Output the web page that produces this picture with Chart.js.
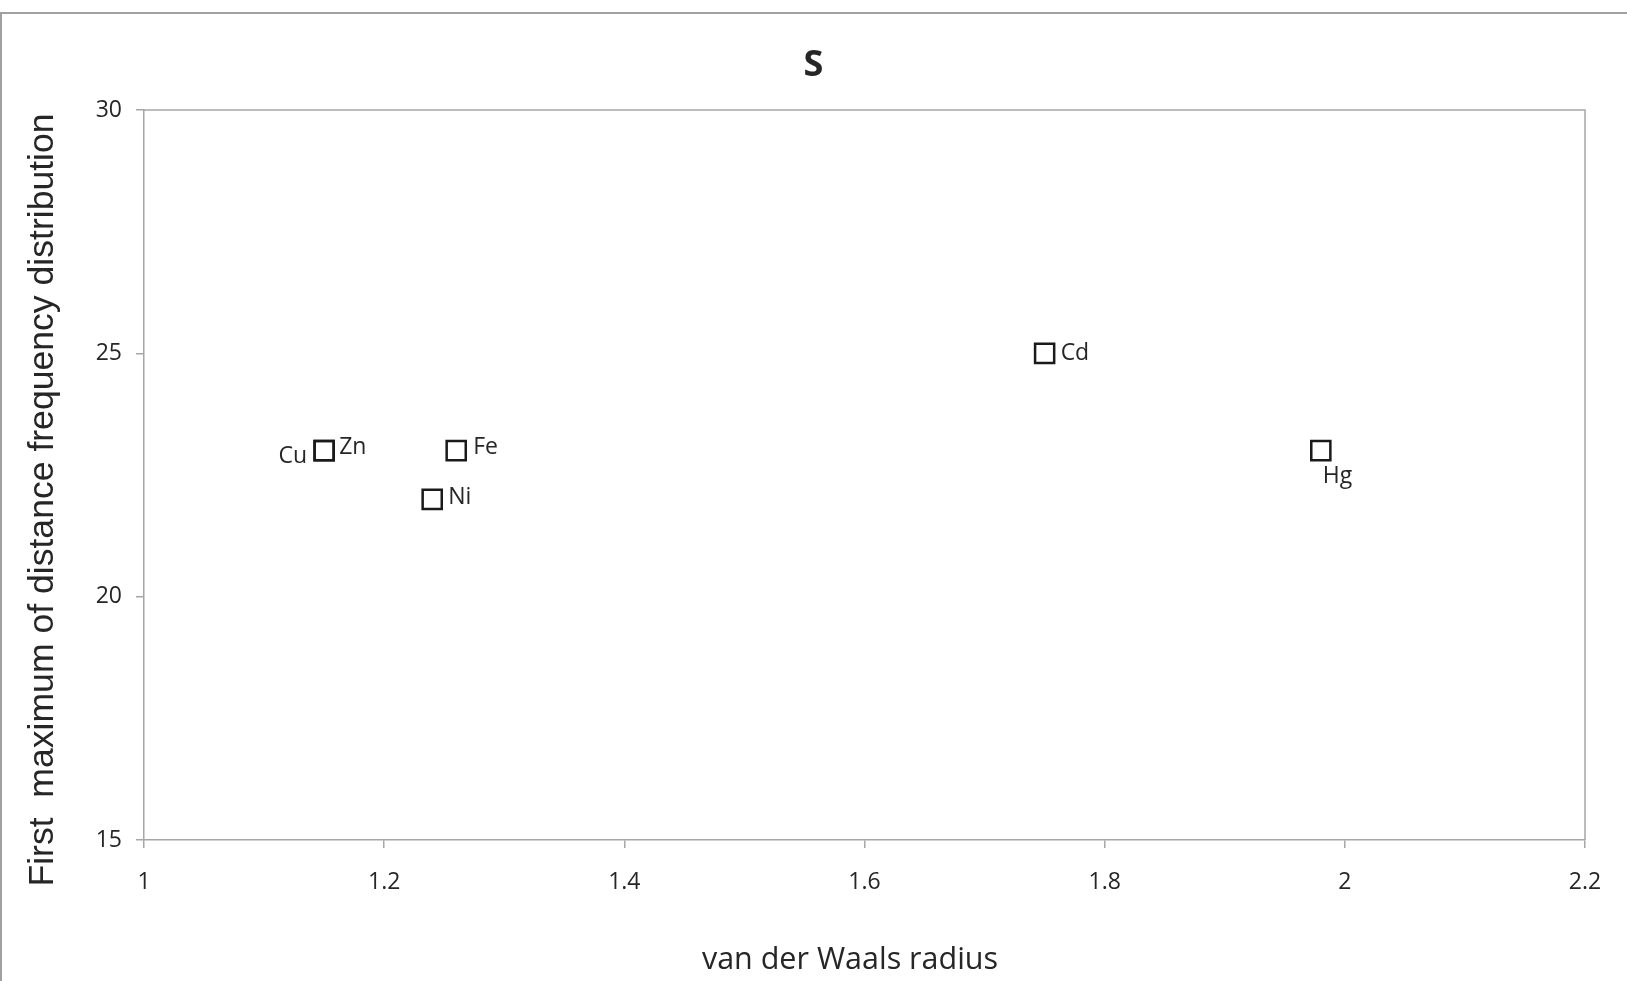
<!DOCTYPE html>
<html>
<head>
<meta charset="utf-8">
<script src="https://cdn.jsdelivr.net/npm/chart.js@4/dist/chart.umd.min.js"></script>
<style>
  html, body { margin: 0; padding: 0; background: #ffffff; overflow: hidden; }
  #frame { position: absolute; left: 0; top: 12px; width: 1640px; height: 1000px; border-top: 2px solid #a0a0a0; border-left: 2px solid #a0a0a0; box-sizing: border-box; }
  #wrap { position: absolute; left: 0; top: 0; width: 1627px; height: 981px; }
</style>
</head>
<body>
<div id="frame"></div>
<div id="wrap"><canvas id="c" width="1627" height="981"></canvas></div>
<script>
// ---- data ----
const elements = ['Cu', 'Zn', 'Fe', 'Ni', 'Cd', 'Hg'];
const vdwRadius = [1.15, 1.15, 1.26, 1.24, 1.75, 1.98];
const firstMaximum = [23, 23, 23, 22, 25, 23];
const xTicks = [1, 1.2, 1.4, 1.6, 1.8, 2, 2.2];
const yTicks = [15, 20, 25, 30];
const chartTitle = 'S';
const xTitle = 'van der Waals radius';
const yTitle = 'First  maximum of distance frequency distribution';

// ---- label placement (presentation only) ----
const labelPlacement = {
  Cu: { dx: -17, dy: 6, align: 'right' },
  Zn: { dx: 15, dy: -3, align: 'left' },
  Fe: { dx: 17, dy: -3, align: 'left' },
  Ni: { dx: 16, dy: -2, align: 'left' },
  Cd: { dx: 16, dy: 0, align: 'left' },
  Hg: { dx: 2, dy: 26, align: 'left' }
};

const TEXT = '#262626';
const AXIS = '#a6a6a6';

const points = vdwRadius.map((x, i) => ({ x: x, y: firstMaximum[i] }));

const pointLabels = {
  id: 'pointLabels',
  afterDatasetsDraw(chart) {
    const ctx = chart.ctx;
    const meta = chart.getDatasetMeta(0);
    ctx.save();
    ctx.font = '23px "Open Sans"';
    ctx.fillStyle = TEXT;
    ctx.textBaseline = 'middle';
    meta.data.forEach((pt, i) => {
      const name = elements[i];
      const p = labelPlacement[name];
      ctx.textAlign = p.align;
      ctx.fillText(name, pt.x + p.dx, pt.y + p.dy);
    });
    ctx.restore();
  }
};

const frameAndTitles = {
  id: 'frameAndTitles',
  beforeDatasetsDraw(chart) {
    const { ctx, chartArea } = chart;
    ctx.save();
    ctx.strokeStyle = AXIS;
    ctx.lineWidth = 1.5;
    ctx.beginPath();
    ctx.moveTo(chartArea.left, chartArea.top);
    ctx.lineTo(chartArea.right, chartArea.top);
    ctx.lineTo(chartArea.right, chartArea.bottom);
    ctx.stroke();
    ctx.restore();
  },
  afterDraw(chart) {
    const ctx = chart.ctx;
    ctx.save();
    ctx.fillStyle = TEXT;
    // x axis title
    ctx.font = '30.5px "Open Sans"';
    ctx.textAlign = 'center';
    ctx.textBaseline = 'alphabetic';
    ctx.fillText(xTitle, 850, 969);
    // y axis title
    ctx.translate(52.5, 500);
    ctx.rotate(-Math.PI / 2);
    ctx.font = '35.6px "Liberation Sans"';
    ctx.textAlign = 'center';
    ctx.textBaseline = 'alphabetic';
    ctx.fillText(yTitle, 0, 0);
    ctx.restore();
  }
};

new Chart(document.getElementById('c'), {
  type: 'scatter',
  data: {
    datasets: [{
      label: chartTitle,
      data: points,
      pointStyle: 'rect',
      pointRadius: 13.5,
      pointHoverRadius: 13.5,
      pointBorderWidth: 2.5,
      pointBorderColor: '#1a1a1a',
      pointBackgroundColor: 'rgba(255,255,255,0)',
      showLine: false
    }]
  },
  options: {
    responsive: false,
    animation: false,
    devicePixelRatio: 1,
    layout: { padding: { left: 0, right: 0, top: 0, bottom: 0 } },
    plugins: {
      legend: { display: false },
      tooltip: { enabled: false },
      title: {
        display: true,
        text: chartTitle,
        color: TEXT,
        font: { family: '"Open Sans"', size: 36, weight: 'bold', lineHeight: 1.2 },
        padding: { top: 44, bottom: 22.8 }
      }
    },
    scales: {
      x: {
        type: 'linear',
        min: 1, max: 2.2,
        afterFit: s => { s.height = 141; },
        afterBuildTicks: s => { s.ticks = xTicks.map(v => ({ value: v })); },
        grid: { display: true, drawOnChartArea: false, drawTicks: true, tickLength: 8, color: AXIS, lineWidth: 1.5 },
        border: { display: true, color: AXIS, width: 1.5 },
        ticks: {
          color: TEXT,
          font: { family: '"Open Sans"', size: 23 },
          padding: 21,
          maxRotation: 0,
          autoSkip: false,
          callback: v => String(v)
        },
        title: { display: false }
      },
      y: {
        type: 'linear',
        min: 15, max: 30,
        afterFit: s => { s.width = 144; },
        afterBuildTicks: s => { s.ticks = yTicks.map(v => ({ value: v })); },
        grid: { display: true, drawOnChartArea: false, drawTicks: true, tickLength: 8, color: AXIS, lineWidth: 1.5 },
        border: { display: true, color: AXIS, width: 1.5 },
        ticks: {
          color: TEXT,
          font: { family: '"Open Sans"', size: 23 },
          padding: 14,
          autoSkip: false,
          callback: v => String(v)
        },
        title: { display: false }
      },
      yRightSpace: {
        type: 'linear',
        position: 'right',
        display: true,
        afterFit: s => { s.width = 42; },
        grid: { display: false, drawTicks: false },
        border: { display: false },
        ticks: { display: false },
        title: { display: false }
      }
    }
  },
  plugins: [frameAndTitles, pointLabels]
});
</script>
</body>
</html>
